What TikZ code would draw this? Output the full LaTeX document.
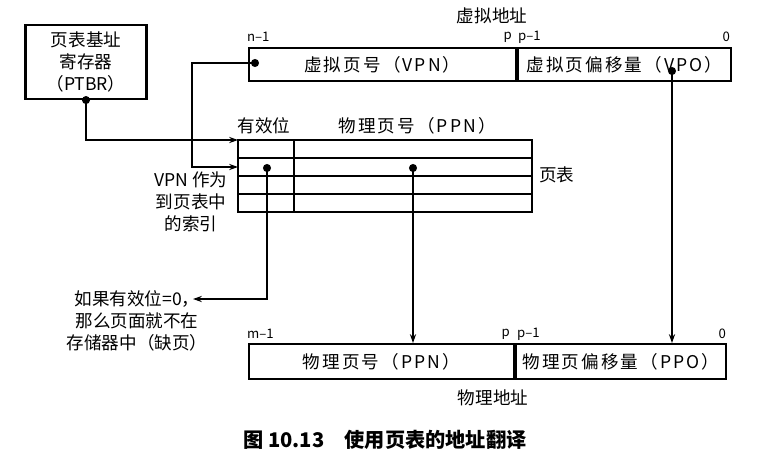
\documentclass[tikz,border=0pt]{standalone}
\usepackage{fontspec}
\setmainfont{Liberation Serif}
\newfontfamily\cjk{Noto Sans CJK SC}
\newfontfamily\cjkwide[LetterSpace=12]{Noto Sans CJK SC}
\usetikzlibrary{arrows.meta}
\usetikzlibrary{calc}

\begin{document}
\begin{tikzpicture}[
    x=0.02cm,
    y=-0.02cm,
    line join=miter,
    every node/.style={
        font=\cjk\fontsize{10}{12.5}\selectfont,
        inner sep=1pt
    },
    regbox/.style={
        draw,
        line width=1.2pt,
        align=center,
        inner sep=0pt
    },
    field/.style={
        draw,
        line width=1.1pt,
        anchor=north west,
        inner sep=0pt,
        font=\cjkwide\fontsize{10}{12}\selectfont
    },
    tableline/.style={
        line width=1pt
    },
    conn/.style={
        line width=0.8pt,
        -{Stealth[length=5pt,width=3.5pt]}
    },
    bitlabel/.style={
        font=\cjk\fontsize{7.5}{9}\selectfont
    }
]

    \useasboundingbox (0,0) rectangle (761,467);

    \coordinate (tblNW) at (238,140);
    \coordinate (tblSE) at (532,212);
    \coordinate (tblRow) at (238,167);
    \coordinate (noteTip) at (193,299);
    % Page table base register
    \node[regbox, minimum width=2.42cm, minimum height=1.48cm] (ptbr) at (86,62) {页表基址\\寄存器\\（PTBR）};

    % Virtual address
    \node (vaddr) at (492,16) {虚拟地址};
    \node[field, minimum width=5.34cm, minimum height=0.66cm] (vpn) at (248,47) {虚拟页号（VPN）};
    \node[field, minimum width=4.26cm, minimum height=0.66cm] (vpo) at (vpn.north east) {虚拟页偏移量（VPO）};
    \node[bitlabel, anchor=west] (vn) at (245,37) {n–1};
    \node[bitlabel, anchor=east] (vp) at (514,37) {p};
    \node[bitlabel, anchor=west] (vp1) at (516,37) {p–1};
    \node[bitlabel, anchor=east] (v0) at (732,37) {0};

    % Page table
    \draw[tableline] (tblNW) rectangle (tblSE);
    \foreach \y in {158,176,194} {
        \draw[tableline] (238,\y) -- (532,\y);
    }
    \draw[tableline] (294,140) -- (294,212);
    \node (validHead) at (264,126) {有效位};
    \node[font=\cjkwide\fontsize{10}{12}\selectfont] (ppnHead) at (417,126) {物理页号（PPN）};
    \node[anchor=west] (ptLabel) at (537,175) {页表};
    \node[align=center] (index) at (191,202) {VPN 作为\\到页表中\\的索引};
    \node[align=center] (note) at (137,321) {如果有效位=0，\\那么页面就不在\\存储器中（缺页）};

    % Physical address
    \node[field, minimum width=5.3cm, minimum height=0.7cm] (ppn) at (248,343) {物理页号（PPN）};
    \node[field, minimum width=4.2cm, minimum height=0.7cm] (ppo) at (ppn.north east) {物理页偏移量（PPO）};
    \node[bitlabel, anchor=west] (pm) at (245,334) {m–1};
    \node[bitlabel, anchor=east] (pp) at (512,334) {p};
    \node[bitlabel, anchor=west] (pp1) at (515,334) {p–1};
    \node[bitlabel, anchor=east] (p0) at (728,334) {0};
    \node (paddr) at (493,398) {物理地址};

    % Dots and connectors
    \coordinate (ptbrDot) at (ptbr.south);
    \coordinate (vpnDot) at (255,63);
    \coordinate (validDot) at (267,168);
    \coordinate (ppnDot) at (413,168);
    \coordinate (vpoDot) at (672,71);
    \foreach \p in {ptbrDot,vpnDot,validDot,ppnDot,vpoDot} {
        \fill (\p) circle (2.3pt);
    }
    \draw[conn] (ptbrDot) |- (tblNW);
    \draw[conn] (vpnDot) -- ++(-63,0) |- (tblRow);
    \draw[conn] (validDot) |- (noteTip);
    \draw[conn] (ppnDot) -- (ppnDot |- ppn.north);
    \draw[conn] (vpoDot) -- (vpoDot |- ppo.north);

    \node[font=\cjk\bfseries\fontsize{11.5}{13}\selectfont] (caption) at (385,440) {图 10.13\quad 使用页表的地址翻译};

\end{tikzpicture}
\end{document}
